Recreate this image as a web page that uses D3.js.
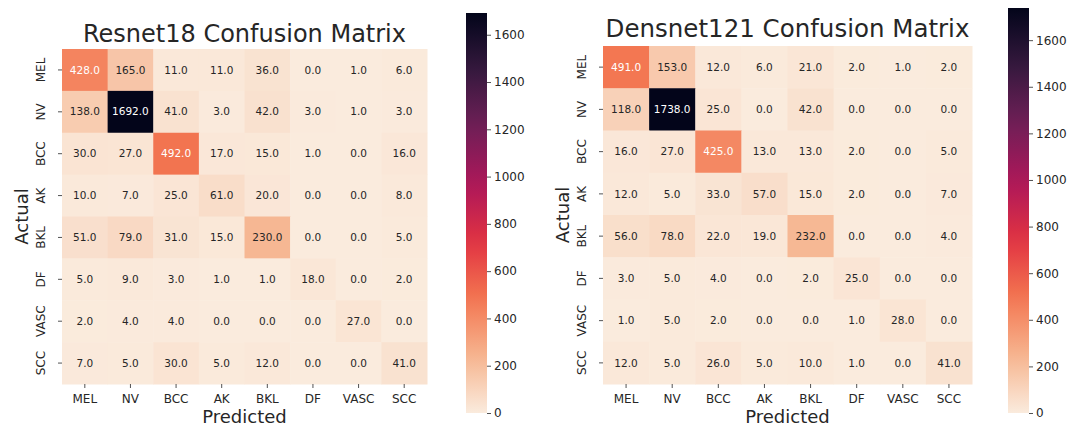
<!DOCTYPE html>
<html>
<head>
<meta charset="utf-8">
<script src="https://cdn.jsdelivr.net/npm/d3@7"></script>
<style>
  body { margin: 0; background: #fff; }
  svg text { font-family: "DejaVu Sans", sans-serif; }
</style>
</head>
<body>
<svg id="chart" width="1078" height="426"></svg>
<script>
const classes = ['MEL', 'NV', 'BCC', 'AK', 'BKL', 'DF', 'VASC', 'SCC'];

const resnetValues = [
    [428, 165, 11, 11, 36, 0, 1, 6],
    [138, 1692, 41, 3, 42, 3, 1, 3],
    [30, 27, 492, 17, 15, 1, 0, 16],
    [10, 7, 25, 61, 20, 0, 0, 8],
    [51, 79, 31, 15, 230, 0, 0, 5],
    [5, 9, 3, 1, 1, 18, 0, 2],
    [2, 4, 4, 0, 0, 0, 27, 0],
    [7, 5, 30, 5, 12, 0, 0, 41]
];

const densenetValues = [
    [491, 153, 12, 6, 21, 2, 1, 2],
    [118, 1738, 25, 0, 42, 0, 0, 0],
    [16, 27, 425, 13, 13, 2, 0, 5],
    [12, 5, 33, 57, 15, 2, 0, 7],
    [56, 78, 22, 19, 232, 0, 0, 4],
    [3, 5, 4, 0, 2, 25, 0, 0],
    [1, 5, 2, 0, 0, 1, 28, 0],
    [12, 5, 26, 5, 10, 1, 0, 41]
];

const colorbarTicks = [0, 200, 400, 600, 800, 1000, 1200, 1400, 1600];

// seaborn "rocket", reversed (light at 0, dark at max)
const rocket = ['#03051a', '#35193e', '#701f57', '#ad1759', '#e13342', '#f37651', '#f6b48f', '#faebdd'];
const rocketR = d3.piecewise(d3.interpolateRgb, rocket.slice().reverse());

const svg = d3.select('#chart');

function drawMatrix(cfg) {
    const data = cfg.values;
    const vmax = d3.max(data.flat());

    const x = d3.scaleBand().domain(classes).range([cfg.left, cfg.right]);
    const y = d3.scaleBand().domain(classes).range([cfg.top, cfg.bottom]);
    const color = d3.scaleSequential(rocketR).domain([0, vmax]);

    const cells = [];
    data.forEach((row, i) => row.forEach((v, j) => cells.push({ actual: classes[i], pred: classes[j], v: v })));

    const g = svg.append('g');

    g.selectAll('rect.cell')
        .data(cells)
        .enter()
        .append('rect')
        .attr('class', 'cell')
        .attr('x', d => x(d.pred))
        .attr('y', d => y(d.actual))
        .attr('width', x.bandwidth() + 0.5)
        .attr('height', y.bandwidth() + 0.5)
        .attr('fill', d => color(d.v));

    // white text on the darker (orange and up) cells, like seaborn does
    g.selectAll('text.annot')
        .data(cells)
        .enter()
        .append('text')
        .attr('class', 'annot')
        .attr('x', d => x(d.pred) + x.bandwidth() / 2)
        .attr('y', d => y(d.actual) + y.bandwidth() / 2)
        .attr('dy', '0.35em')
        .attr('text-anchor', 'middle')
        .style('font-size', '10.5px')
        .style('fill', d => d.v / vmax > 0.22 ? '#ffffff' : '#262626')
        .text(d => d.v.toFixed(1));

    // axes
    const xAxis = g.append('g')
        .attr('transform', `translate(0, ${cfg.bottom})`)
        .call(d3.axisBottom(x).tickSize(4).tickPadding(6));
    const yAxis = g.append('g')
        .attr('transform', `translate(${cfg.left}, 0)`)
        .call(d3.axisLeft(y).tickSize(4));

    [xAxis, yAxis].forEach(a => {
        a.select('.domain').remove();
        a.selectAll('line').attr('stroke', '#262626').attr('stroke-width', 0.8);
        a.selectAll('text').style('font-size', '12px').style('fill', '#262626');
    });

    yAxis.selectAll('text')
        .attr('transform', 'rotate(-90)')
        .attr('text-anchor', 'middle')
        .attr('x', 0)
        .attr('y', -17)
        .attr('dy', 0);

    // titles
    g.append('text')
        .attr('x', (cfg.left + cfg.right) / 2)
        .attr('y', cfg.titleY)
        .attr('text-anchor', 'middle')
        .style('font-size', cfg.titleSize)
        .style('fill', '#262626')
        .text(cfg.title);

    g.append('text')
        .attr('x', (cfg.left + cfg.right) / 2)
        .attr('y', 423)
        .attr('text-anchor', 'middle')
        .style('font-size', '18px')
        .style('fill', '#262626')
        .text('Predicted');

    g.append('text')
        .attr('transform', `translate(${cfg.left - 34}, ${(cfg.top + cfg.bottom) / 2}) rotate(-90)`)
        .attr('text-anchor', 'middle')
        .style('font-size', '18px')
        .style('fill', '#262626')
        .text('Actual');

    // colorbar
    const cb = cfg.colorbar;
    const cbScale = d3.scaleLinear().domain([0, vmax]).range([cb.bottom, cb.top]);
    const gradId = 'grad-' + cfg.id;
    const grad = svg.append('defs').append('linearGradient')
        .attr('id', gradId)
        .attr('x1', 0).attr('y1', 1).attr('x2', 0).attr('y2', 0);
    d3.range(0, 1.0001, 0.05).forEach(t => {
        grad.append('stop').attr('offset', t).attr('stop-color', color(t * vmax));
    });
    g.append('rect')
        .attr('x', cb.left)
        .attr('y', cb.top)
        .attr('width', cb.width)
        .attr('height', cb.bottom - cb.top)
        .attr('fill', `url(#${gradId})`);

    const cbAxis = g.append('g')
        .attr('transform', `translate(${cb.left + cb.width}, 0)`)
        .call(d3.axisRight(cbScale).tickValues(colorbarTicks).tickFormat(d3.format('d')).tickSize(4).tickPadding(3));
    cbAxis.select('.domain').remove();
    cbAxis.selectAll('line').attr('stroke', '#262626').attr('stroke-width', 0.8);
    cbAxis.selectAll('text').style('font-size', '12px').style('fill', '#262626');
}

drawMatrix({
    id: 'resnet',
    title: 'Resnet18 Confusion Matrix',
    titleY: 42, titleSize: '24px',
    values: resnetValues,
    left: 62, right: 427, top: 49, bottom: 384,
    colorbar: { left: 466, width: 21, top: 13, bottom: 413 }
});

drawMatrix({
    id: 'densenet',
    title: 'Densnet121 Confusion Matrix',
    titleY: 37, titleSize: '24.5px',
    values: densenetValues,
    left: 603, right: 972, top: 46, bottom: 384,
    colorbar: { left: 1008, width: 21, top: 8, bottom: 413 }
});
</script>
</body>
</html>
